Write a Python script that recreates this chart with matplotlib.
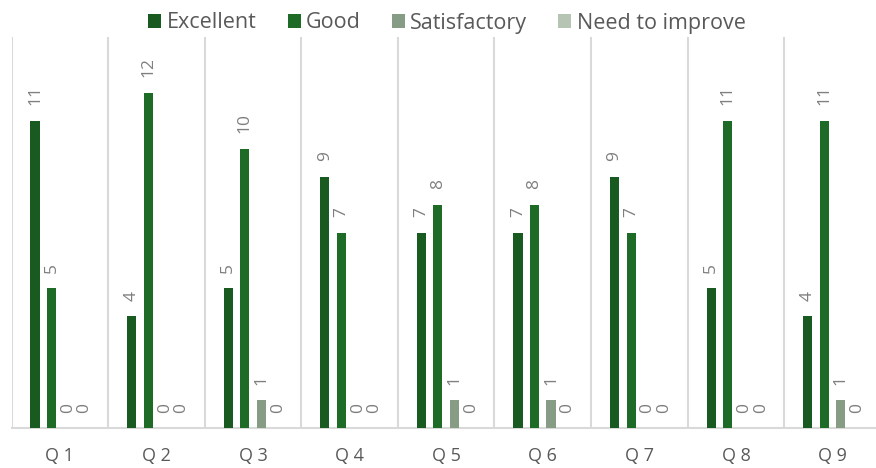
import matplotlib
matplotlib.use("Agg")
import matplotlib.pyplot as plt
import numpy as np

categories = ["Q 1", "Q 2", "Q 3", "Q 4", "Q 5", "Q 6", "Q 7", "Q 8", "Q 9"]
series_names = ["Excellent", "Good", "Satisfactory", "Need to improve"]
excellent = [11, 4, 5, 9, 7, 7, 9, 5, 4]
good = [5, 12, 10, 7, 8, 8, 7, 11, 11]
satisfactory = [0, 0, 1, 0, 1, 1, 0, 0, 1]
need_to_improve = [0, 0, 0, 0, 0, 0, 0, 0, 0]
colors = ["#195a20", "#1e6b28", "#869c85", "#b5c4b3"]

plt.rcParams['font.family'] = ['Open Sans', 'DejaVu Sans']

fig = plt.figure(figsize=(8.76, 4.68), dpi=100)
ax = fig.add_axes([11.5/876, 1 - 428/468, (876 - 11.5)/876, (428 - 37)/468])

x = np.arange(len(categories))
step = 0.171
width = 0.094
all_series = [excellent, good, satisfactory, need_to_improve]
for i, (name, vals, c) in enumerate(zip(series_names, all_series, colors)):
    pos = x + (i - 1.5) * step
    ax.bar(pos, vals, width=width, color=c, label=name, zorder=3)
    for p, v in zip(pos, vals):
        ax.text(p, v + 0.55, str(v), rotation=90, ha='center', va='bottom',
                fontsize=12.5, color='#7f7f7f')

ax.set_xlim(-0.5, 8.45)
ax.set_ylim(0, 14)
ax.set_yticks([])
ax.set_xticks(x)
ax.set_xticklabels(categories, fontsize=13, color='#595959')
ax.tick_params(axis='x', length=0, pad=14)
for b in np.arange(-0.5, 9, 1):
    ax.axvline(b, color='#d9d9d9', lw=1.5, zorder=1)
for s in ['top', 'right', 'left']:
    ax.spines[s].set_visible(False)
ax.spines['bottom'].set_color('#d9d9d9')
ax.spines['bottom'].set_linewidth(1.5)

leg = fig.legend(loc='center', bbox_to_anchor=(447/876, 1 - 23/468), ncol=4,
                 frameon=False, fontsize=15.5, handlelength=0.6, handleheight=0.6,
                 handletextpad=0.25, columnspacing=1.45)
for t in leg.get_texts():
    t.set_color('#595959')

fig.savefig("out.png", dpi=100)
